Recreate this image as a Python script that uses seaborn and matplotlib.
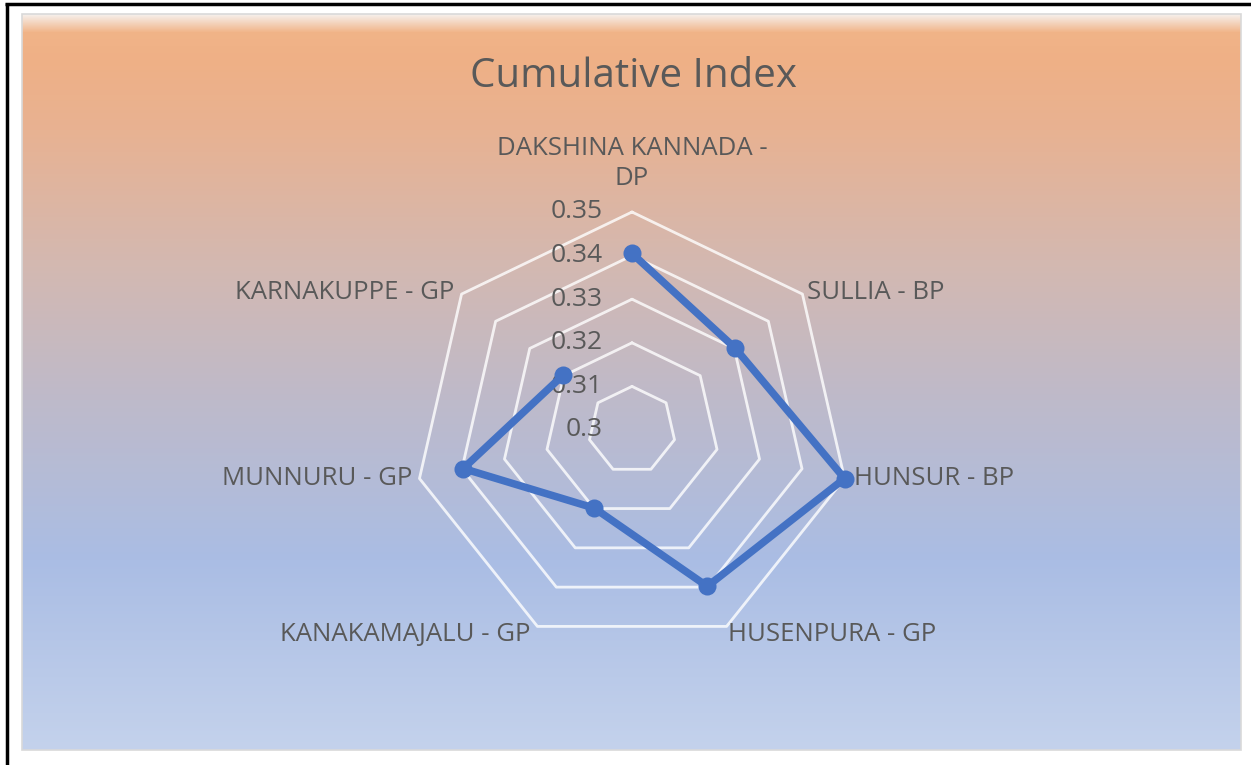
import textwrap
import numpy as np
import pandas as pd
import seaborn as sns
import matplotlib.pyplot as plt

#%% data
categories = ['DAKSHINA KANNADA - DP', 'SULLIA - BP', 'HUNSUR - BP', 'HUSENPURA - GP',
              'KANAKAMAJALU - GP', 'MUNNURU - GP', 'KARNAKUPPE - GP']
index_values = [0.3405, 0.3302, 0.3500, 0.3398, 0.3199, 0.3397, 0.3202]
ring_ticks = [0.30, 0.31, 0.32, 0.33, 0.34, 0.35]
tick_labels = ['0.3', '0.31', '0.32', '0.33', '0.34', '0.35']

title = 'Cumulative Index'

#%% style
sns.set_style('white')
plt.rcParams['font.family'] = ['Open Sans', 'DejaVu Sans']
txt_col = '#595959'
line_col = '#4472C4'

W, H = 1251, 765
fig = plt.figure(figsize=(W / 100, H / 100), dpi=100)
fig.patch.set_facecolor('white')

#%% background (gradient chart area + frame)
bg = fig.add_axes([0, 0, 1, 1], zorder=-2)
bg.set_xlim(0, W)
bg.set_ylim(H, 0)
bg.axis('off')

stops_y = [14, 32, 60, 130, 260, 400, 560, 750]
stops_c = [(246, 240, 236), (241, 180, 136), (239, 176, 134), (232, 178, 146),
           (212, 184, 176), (190, 186, 202), (170, 189, 228), (196, 210, 236)]
rows = np.arange(14, 751)
grad = np.stack([np.interp(rows, stops_y, [c[i] for c in stops_c]) for i in range(3)], axis=-1) / 255
grad = np.repeat(grad[:, None, :], 2, axis=1)
bg.imshow(grad, extent=(22, 1241, 750, 14), aspect='auto', interpolation='bilinear')
bg.add_patch(plt.Rectangle((22, 14), 1219, 736, fill=False, ec='#d9d9d9', lw=1.2))
bg.plot([5, W], [4, 4], color='black', lw=2.5, solid_capstyle='butt')
bg.plot([6.5, 6.5], [3, H], color='black', lw=2.5, solid_capstyle='butt')

bg.text(633, 77, title, ha='center', va='center', fontsize=29, color=txt_col)

#%% radar
cx, cy, R = 632, 430, 218
ax = fig.add_axes([(cx - R) / W, (H - cy - R) / H, 2 * R / W, 2 * R / H], projection='polar')
ax.set_facecolor('none')
ax.set_theta_zero_location('N')
ax.set_theta_direction(-1)
ax.set_ylim(ring_ticks[0], ring_ticks[-1])
ax.grid(False)
ax.set_xticks([])
ax.set_yticks([])
ax.spines['polar'].set_visible(False)

n = len(categories)
angles = np.linspace(0, 2 * np.pi, n, endpoint=False)
closed = np.append(angles, angles[0])

# heptagon grid
for r in ring_ticks[1:]:
    ax.plot(closed, [r] * (n + 1), color='white', alpha=0.8, lw=2, zorder=1, clip_on=False)

df = pd.DataFrame({'angle': closed, 'value': index_values + index_values[:1]})
sns.lineplot(data=df, x='angle', y='value', sort=False, ax=ax, color=line_col,
             linewidth=5.4, marker='o', markersize=13, markeredgewidth=0, zorder=4)
for l in ax.lines:
    l.set_clip_on(False)
ax.set_xlabel('')
ax.set_ylabel('')

# tick labels along the top spoke
for r, lab in zip(ring_ticks, tick_labels):
    ax.annotate(lab, xy=(0, r), xytext=(-21, 0), textcoords='offset points',
                ha='right', va='center', fontsize=19, color=txt_col,
                annotation_clip=False, zorder=2)

# category labels
offsets = [(0, 15), (3, 1), (7, 0), (1, -6), (-5, -6), (-5, 0), (-5, 1)]
aligns = [('center', 'bottom'), ('left', 'center'), ('left', 'center'), ('left', 'center'),
          ('right', 'center'), ('right', 'center'), ('right', 'center')]
for a, cat, off, (ha, va) in zip(angles, categories, offsets, aligns):
    ax.annotate(textwrap.fill(cat, 18), xy=(a, ring_ticks[-1]), xytext=off,
                textcoords='offset points', ha=ha, va=va, fontsize=18.5,
                color=txt_col, linespacing=1.25, annotation_clip=False, zorder=2)

fig.savefig('out.png', dpi=100)
